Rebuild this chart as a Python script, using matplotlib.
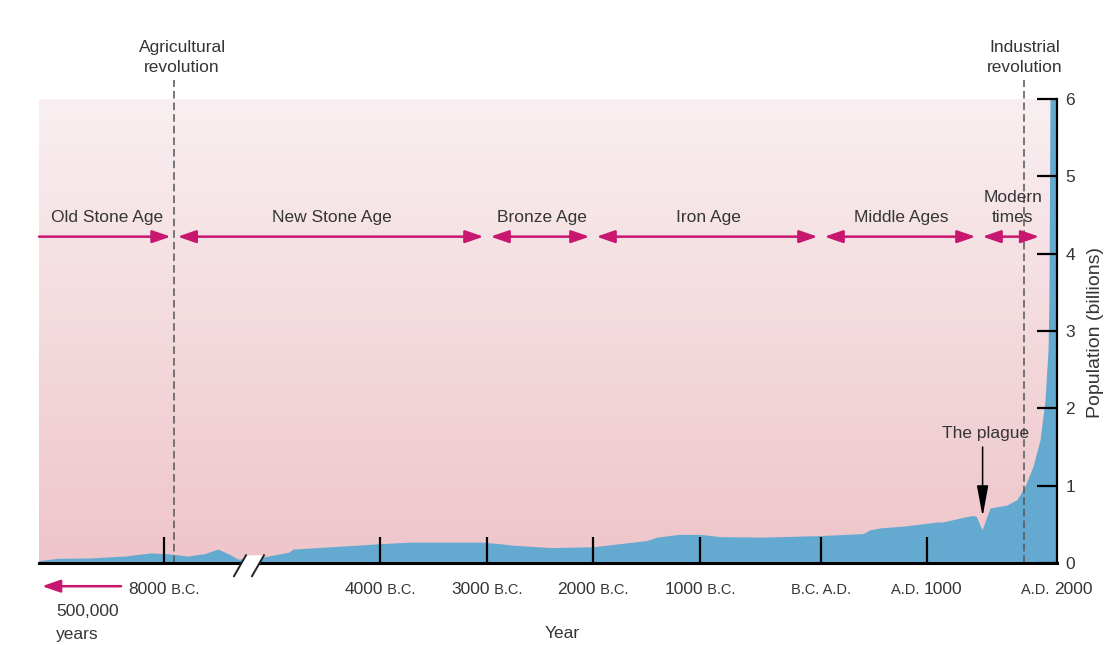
import numpy as np
import matplotlib.pyplot as plt
from matplotlib.colors import LinearSegmentedColormap

plt.rcParams['font.family'] = ['Liberation Sans', 'DejaVu Sans']

# world population (billions); negative years are B.C.
years = [-9170, -9000, -8700, -8365, -8130, -7960, -7770, -7600, -7470, -7365, -7270,
         -5084, -4822, -4785, -4215, -4000, -3720, -3050, -2880, -2750, -2400, -2000,
         -1500, -1400, -1200, -1000, -826, -471, 0, 396, 462, 566, 802, 1075,
         1123, 1277, 1354, 1380, 1423, 1485, 1615, 1692, 1754, 1815, 1869, 1908,
         1931, 1938, 1946, 2000]
pop = [0.03, 0.06, 0.065, 0.09, 0.13, 0.12, 0.09, 0.12, 0.18, 0.12, 0.05,
       0.07, 0.14, 0.18, 0.23, 0.25, 0.27, 0.27, 0.25, 0.23, 0.20, 0.21,
       0.29, 0.335, 0.37, 0.37, 0.34, 0.335, 0.355, 0.38, 0.43, 0.455, 0.48, 0.53,
       0.53, 0.59, 0.615, 0.60, 0.43, 0.71, 0.75, 0.82, 0.99, 1.25, 1.59, 2.11,
       2.76, 3.4, 6.0, 6.0]

ages = ['Old Stone Age', 'New Stone Age', 'Bronze Age', 'Iron Age', 'Middle Ages', 'Modern\ntimes']
age_start = [-9170, -7900, -3000, -2000, 0, 1400]
age_end = [-7900, -3000, -2000, 0, 1400, 1890]

tick_years = [-8000, -4000, -3000, -2000, -1000, 0, 1000, 2000]
tick_parts = [[('8000', 'n'), (' B.C.', 'e')],
              [('4000', 'n'), (' B.C.', 'e')],
              [('3000', 'n'), (' B.C.', 'e')],
              [('2000', 'n'), (' B.C.', 'e')],
              [('1000', 'n'), (' B.C.', 'e')],
              [('B.C. A.D.', 'e')],
              [('A.D. ', 'e'), ('1000', 'n')],
              [('A.D. ', 'e'), ('2000', 'n')]]
pop_ticks = [0, 1, 2, 3, 4, 5, 6]

agri_year = -7900
indus_year = 1750
plague_year = 1420

# the time axis is not linear (and broken before 4000 B.C.), so map years to positions
scale_years = [-9170, -8000, -7250, -5100, -4000, -3000, -2000, -1000, 0, 1000, 2000]
scale_pos = [39, 164, 240, 258, 380, 487, 593, 700, 821, 927, 1057]


def to_x(y):
    return np.interp(y, scale_years, scale_pos)


txt_col = '#353535'
magenta = '#c8176e'
blue = '#63a9d0'
fs = 12.5

fig = plt.figure(figsize=(11.07, 6.45), dpi=100)
ax = fig.add_axes([39 / 1107, 82 / 645, 1018 / 1107, 464 / 645])
ax.set_xlim(39, 1057)
ax.set_ylim(0, 6)

# pink background, lighter at the top
grad = LinearSegmentedColormap.from_list('bg', ['#eec5ca', '#f9eff1'])
ax.imshow(np.linspace(0, 1, 256).reshape(-1, 1)[::-1], cmap=grad, aspect='auto',
          extent=[39, 1057, 0, 6], zorder=0)

xs = to_x(years)
ax.fill_between(xs, 0, pop, color=blue, lw=0, zorder=1.5)

# axis styling
for s in ['left', 'top']:
    ax.spines[s].set_visible(False)
ax.spines['bottom'].set_linewidth(2.2)
ax.spines['right'].set_linewidth(1.6)
ax.spines['bottom'].set_zorder(3)
ax.yaxis.set_ticks_position('right')
ax.set_yticks(pop_ticks)
ax.tick_params(axis='y', direction='in', length=14.5, width=1.6, pad=6,
               labelsize=12.5, labelcolor=txt_col)
ax.set_xticks(to_x(tick_years[:-1]))
ax.set_xticklabels([])
ax.tick_params(axis='x', direction='in', length=18.5, width=1.6)

# eras along the top
arrow_y = 4.22
for name, a, b in zip(ages, age_start, age_end):
    x0, x1 = to_x(a), to_x(b)
    if a == scale_years[0]:
        style = '-|>,head_length=1.1,head_width=0.38'
        xa = x0
    else:
        style = '<|-|>,head_length=1.1,head_width=0.38'
        xa = x0 + 3.5
    ax.annotate('', xy=(x1 - 3.5, arrow_y), xytext=(xa, arrow_y),
                arrowprops=dict(arrowstyle=style, color=magenta, lw=1.8,
                                shrinkA=0, shrinkB=0, mutation_scale=10),
                annotation_clip=False, zorder=4)
    ax.text((xa + x1) / 2, 4.41, name, ha='center', va='baseline', fontsize=fs,
            color=txt_col, linespacing=1.4, zorder=4)

# revolutions
for yr, lab, dx in [(agri_year, 'Agricultural\nrevolution', 8), (indus_year, 'Industrial\nrevolution', 0)]:
    ax.plot([to_x(yr)] * 2, [0, 6.25], color='#555555', lw=1.1, ls=(0, (5, 2.6)),
            clip_on=False, zorder=3)
    ax.text(to_x(yr) + dx, 6.54, lab, ha='center', va='center', fontsize=fs,
            color=txt_col, linespacing=1.4)

# the plague
px = to_x(plague_year) + 1
ax.annotate('', xy=(px, 0.6), xytext=(px, 1.5),
            arrowprops=dict(arrowstyle='-|>,head_length=1.9,head_width=0.35', color='black',
                            lw=1.1, shrinkA=0, shrinkB=0, mutation_scale=10), zorder=4)
ax.text(px + 3, 1.58, 'The plague', ha='center', va='bottom', fontsize=fs, color=txt_col)

# break marks in the time axis
bl, br = to_x(-7250), to_x(-5100)
ax.fill([bl - 6, bl + 6, br + 6, br - 6], [-0.17, 0.1, 0.1, -0.17], color='white',
        lw=0, clip_on=False, zorder=3.5)
for bx in [bl, br]:
    ax.plot([bx - 6, bx + 6], [-0.17, 0.1], color='#222222', lw=1.4, clip_on=False, zorder=4)

# tick labels: numbers large, B.C. / A.D. smaller
sizes = {'n': 12.5, 'e': 10.5}
labels = []
for yr, parts in zip(tick_years, tick_parts):
    ts = [ax.annotate(s, xy=(to_x(yr), 0), xytext=(0, -31), textcoords='offset pixels',
                      ha='left', va='baseline', fontsize=sizes[k], color=txt_col,
                      annotation_clip=False) for s, k in parts]
    labels.append(ts)
fig.canvas.draw()
r = fig.canvas.get_renderer()
for ts in labels:
    widths = [t.get_window_extent(r).width for t in ts]
    start = -sum(widths) / 2
    for t, w in zip(ts, widths):
        t.xyann = (start, -31)
        start += w

# long-ago arrow and axis titles
ax.annotate('', xy=(42, -0.3), xytext=(121, -0.3),
            arrowprops=dict(arrowstyle='-|>,head_length=1.1,head_width=0.38', color=magenta,
                            lw=1.8, shrinkA=0, shrinkB=0, mutation_scale=10),
            annotation_clip=False)
fig.text(56 / 1107, 1 - 623 / 645, '500,000\nyears', ha='left', va='center', fontsize=fs,
         color=txt_col, linespacing=1.6)
fig.text(562 / 1107, 1 - 633 / 645, 'Year', ha='center', va='center', fontsize=fs, color=txt_col)
fig.text(1096 / 1107, 1 - 332 / 645, 'Population (billions)', rotation=90, ha='center',
         va='center', fontsize=14, color=txt_col)

fig.savefig('out.png', dpi=100)
